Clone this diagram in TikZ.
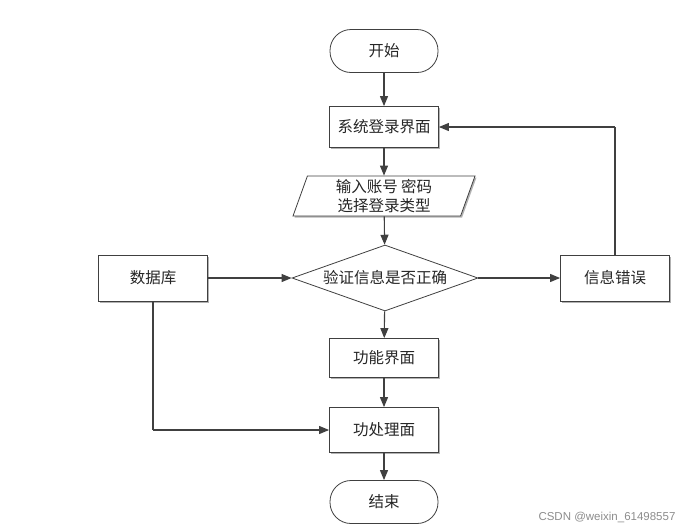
\documentclass[tikz,border=0pt]{standalone}
\usepackage{fontspec}
\setmainfont{Noto Sans CJK SC}
\newfontfamily\wmfont{Liberation Sans}
\usetikzlibrary{arrows.meta,shapes.geometric,shadows}
\definecolor{linec}{HTML}{404040}
\begin{document}
\begin{tikzpicture}[x=1pt,y=-1pt,
  every node/.style={font=\fontsize{15.5}{18}\selectfont, text=black!85},
  shad/.style={drop shadow={shadow xshift=1.5pt,shadow yshift=-1.5pt,fill=black!30,opacity=1}},
  procbox/.style={draw=linec, fill=white, line width=0.8pt, minimum width=109pt, minimum height=41pt, inner sep=0pt, shad},
  termbox/.style={draw=linec, fill=white, line width=0.8pt, minimum width=108pt, minimum height=43pt, rounded corners=21pt, inner sep=0pt},
  iobox/.style={draw=linec, fill=white, line width=0.8pt, trapezium, trapezium left angle=67, trapezium right angle=113, minimum width=182pt, minimum height=40pt, inner sep=0pt, align=center, font=\fontsize{15.5}{19.5}\selectfont, trapezium stretches body, shad},
  decbox/.style={draw=linec, fill=white, line width=0.8pt, diamond, aspect=2.8, minimum width=186pt, minimum height=66pt, inner sep=0pt},
  conn/.style={draw=linec, line width=1.1pt, -{Triangle[length=10pt,width=8pt]}},
  plain/.style={draw=linec, line width=1.1pt}
]
\useasboundingbox (0,0) rectangle (696,531);
\node[termbox] (start) at (384,51) {开始};
\node[procbox] (login) at (384,127) {系统登录界面};
\node[iobox] (input) at (384,196) {输入账号 密码\\选择登录类型};
\node[decbox] (check) at (385,278) {验证信息是否正确};
\node[procbox, minimum height=46pt] (db) at (153,278) {数据库};
\node[procbox, minimum height=46pt, minimum width=109pt] (err) at (615,278) {信息错误};
\node[procbox, minimum height=39pt] (func) at (384,358) {功能界面};
\node[procbox, minimum height=45pt] (proc) at (384,430) {功处理面};
\node[termbox] (end) at (384,502) {结束};
\coordinate (errtop) at (err.north |- login.east);
\coordinate (dbbot) at (db.south |- proc.west);
\draw[conn] (start) -- (login);
\draw[conn] (login) -- (input);
\draw[conn] (input) -- (check);
\draw[conn] (db) -- (check.west);
\draw[conn] (check.east) -- (err);
\draw[conn] (check) -- (func);
\draw[conn] (func) -- (proc);
\draw[conn] (proc) -- (end);
\draw[plain] (err.north) -- (errtop);
\draw[conn] (errtop) -- (login.east);
\draw[plain] (db.south) -- (dbbot);
\draw[conn] (dbbot) -- (proc.west);
\node[font=\wmfont\fontsize{11.5}{13}\selectfont, text=black!45, anchor=east] (wm) at (679,517) {CSDN @weixin\_61498557};
\end{tikzpicture}
\end{document}
